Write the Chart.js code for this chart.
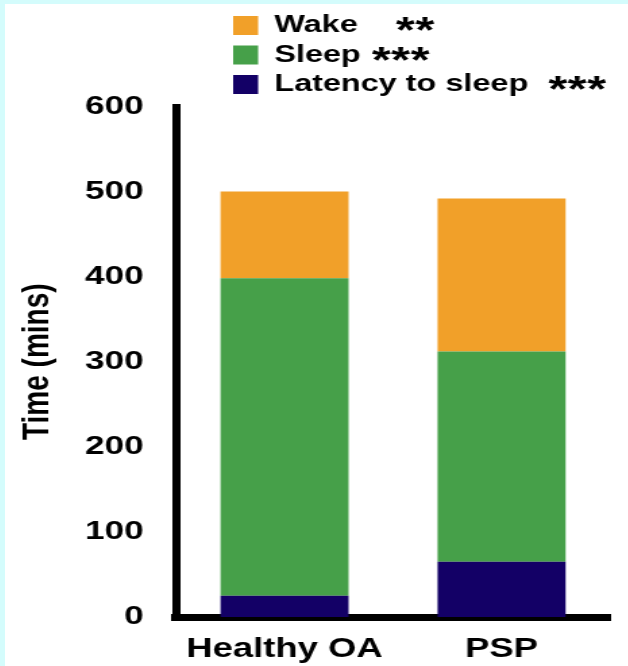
<!DOCTYPE html>
<html>
<head>
<meta charset="utf-8">
<script src="https://cdn.jsdelivr.net/npm/chart.js@4/dist/chart.umd.min.js"></script>
<style>
  html, body { margin: 0; padding: 0; width: 628px; height: 666px; overflow: hidden; background: #d4fcfc; }
  #frame { position: absolute; left: 5px; top: 4px; width: 623px; height: 662px; background: #fff; overflow: hidden; }
  /* the original figure is stretched sideways, so the canvas is too */
  #chart { transform: scaleX(1.35); transform-origin: 0 0; }
</style>
</head>
<body>
<div id="frame"><canvas id="chart" width="462" height="662"></canvas></div>
<script>
// ---- data ----
const GROUPS  = ['Healthy OA', 'PSP'];
const LATENCY = [25, 65];
const SLEEP   = [373, 247];
const WAKE    = [102, 180];
const NAMES   = ['Latency to sleep', 'Sleep', 'Wake'];
const STARS   = ['  ***', ' ***', '    **'];   // significance, leading blanks = gap after name
const Y_TICKS = [0, 100, 200, 300, 400, 500, 600];

// ---- look ----
const FONT = '"Liberation Sans", Arial, sans-serif';
const COLORS = ['#130066', '#46a049', '#f1a029'];
const LEG = { size: 24, box: 18.5, boxH: 19, pad: 5.5 };
const STAR_SIZE = 36, STAR_STEP = 14.4;
const Y_AXIS_W = 126.7;   // chartArea.left
const X_AXIS_H = 49;
const LEGEND_X = 163.5;   // push legend rows right

// legend rows start near the plot, not at the canvas edge
const legendShift = {
  id: 'legendShift',
  afterLayout(chart) { chart.legend.left += LEGEND_X; }
};

// big asterisks after each legend name
const legendStars = {
  id: 'legendStars',
  afterDraw(chart) {
    const lg = chart.legend, ctx = chart.ctx;
    const lineH = LEG.size + LEG.pad;
    ctx.save();
    ctx.fillStyle = '#000';
    ctx.textAlign = 'left';
    ctx.textBaseline = 'alphabetic';
    // legend is reversed: row 0 = last dataset
    NAMES.slice().reverse().forEach((name, row) => {
      const i = NAMES.length - 1 - row;
      const textX = lg.left + LEG.pad + LEG.box + LEG.size / 2;
      const midY = lg.top + LEG.pad + row * lineH + LEG.size / 2;
      const lead = STARS[i].match(/^ */)[0];
      ctx.font = `bold ${LEG.size}px ${FONT}`;
      const x0 = textX + ctx.measureText(name + lead).width + 1.5;
      const n = STARS[i].trim().length;
      ctx.font = `bold ${STAR_SIZE}px ${FONT}`;
      for (let k = 0; k < n; k++) {
        ctx.fillText('*', x0 + k * STAR_STEP, midY - 2.5 + 0.56 * STAR_SIZE);
      }
    });
    ctx.restore();
  }
};

new Chart(document.getElementById('chart'), {
  type: 'bar',
  data: {
    labels: GROUPS,
    datasets: [
      { label: NAMES[0], data: LATENCY, backgroundColor: COLORS[0], borderWidth: 0 },
      { label: NAMES[1], data: SLEEP,   backgroundColor: COLORS[1], borderWidth: 0 },
      { label: NAMES[2], data: WAKE,    backgroundColor: COLORS[2], borderWidth: 0 }
    ]
  },
  options: {
    responsive: false,
    animation: false,
    barPercentage: 0.59,
    categoryPercentage: 1,
    layout: { padding: { top: 4, right: 13.8, bottom: 0, left: 0 } },
    plugins: {
      tooltip: { enabled: false },
      legend: {
        position: 'top',
        align: 'start',
        reverse: true,
        labels: {
          color: '#000',
          boxWidth: LEG.box,
          boxHeight: LEG.boxH,
          padding: LEG.pad,
          font: { family: FONT, size: LEG.size, weight: 'bold' },
          // trailing blanks make every entry take its own row
          generateLabels(chart) {
            const items = Chart.defaults.plugins.legend.labels.generateLabels(chart);
            items.forEach(it => { it.text += ' '.repeat(40); it.lineWidth = 0; });
            return items;
          }
        }
      }
    },
    scales: {
      x: {
        stacked: true,
        afterFit(s) { s.height = X_AXIS_H; },
        grid: { display: false, drawTicks: false },
        border: { color: '#000', width: 7 },
        ticks: { color: '#000', padding: 16, maxRotation: 0, font: { family: FONT, size: 27, weight: 'bold' } }
      },
      y: {
        stacked: true,
        min: 0,
        max: 600,
        afterFit(s) { s.width = Y_AXIS_W; },
        afterBuildTicks(s) { s.ticks = Y_TICKS.map(v => ({ value: v })); },
        grid: { display: false, drawTicks: false },
        border: { color: '#000', width: 6 },
        ticks: { color: '#000', padding: 24, font: { family: FONT, size: 26, weight: 'bold' } },
        title: {
          display: true,
          text: 'Time (mins)',
          color: '#000',
          padding: { top: 7, bottom: 0 },
          font: { family: FONT, size: 28, weight: 'bold' }
        }
      }
    }
  },
  plugins: [legendShift, legendStars]
});
</script>
</body>
</html>
